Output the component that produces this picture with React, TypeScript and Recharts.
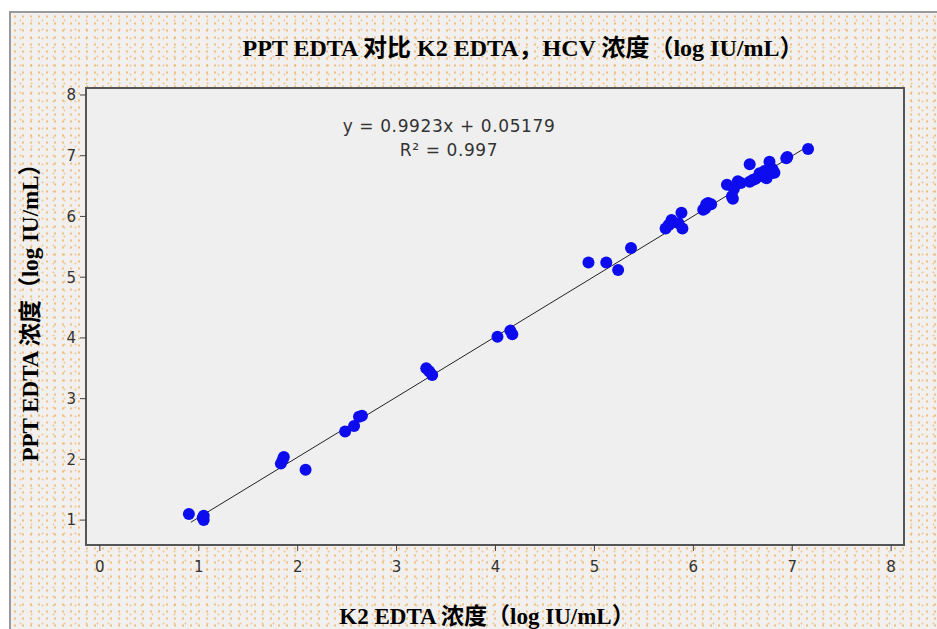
import {
  ComposedChart,
  Scatter,
  XAxis,
  YAxis,
  ReferenceArea,
  ReferenceLine,
} from "recharts";

// K2 EDTA (x) vs PPT EDTA (y), log IU/mL
const k2Values = [
  0.9, 1.04, 1.05, 1.05,
  1.83, 1.85, 1.86, 2.08,
  2.48, 2.57, 2.62, 2.65,
  3.3, 3.33, 3.36,
  4.02, 4.15, 4.17,
  4.94, 5.12, 5.24, 5.37,
  5.72, 5.75, 5.78, 5.85, 5.88, 5.89,
  6.1, 6.12, 6.13, 6.15, 6.18,
  6.34, 6.39, 6.4, 6.41, 6.45, 6.48,
  6.57, 6.57, 6.6, 6.63, 6.67, 6.7, 6.72, 6.74, 6.77, 6.79, 6.8, 6.82,
  6.94, 6.95, 7.16,
];
const pptValues = [
  1.1, 1.04, 1.0, 1.07,
  1.93, 2.0, 2.04, 1.83,
  2.46, 2.55, 2.7, 2.72,
  3.5, 3.45, 3.39,
  4.02, 4.12, 4.06,
  5.24, 5.24, 5.12, 5.48,
  5.8, 5.86, 5.94, 5.89, 6.06, 5.8,
  6.11, 6.13, 6.2, 6.22, 6.2,
  6.52, 6.33, 6.29, 6.45, 6.58, 6.55,
  6.86, 6.57, 6.6, 6.62, 6.71, 6.66, 6.75, 6.63, 6.9, 6.71, 6.78, 6.72,
  6.96, 6.98, 7.11,
];
const tickValues = [0, 1, 2, 3, 4, 5, 6, 7, 8];
const slope = 0.9923;
const intercept = 0.05179;
const fitFrom = 0.92;
const fitTo = 7.2;

const xDomain: [number, number] = [-0.14, 8.13];
const yDomain: [number, number] = [0.59, 8.115];

const points = k2Values.map((x, i) => ({ x, y: pptValues[i] }));

const serif = '"Liberation Serif", "Times New Roman", "Noto Sans CJK SC", serif';
const tickFont = { fill: "#333", fontSize: 15, fontFamily: '"DejaVu Sans", sans-serif' };
const labelStyle = {
  fontFamily: serif,
  fontWeight: "bold" as const,
  fontSize: 23,
  color: "#000",
  whiteSpace: "nowrap" as const,
};

function Dot(props: any) {
  const { cx, cy } = props;
  if (cx == null || cy == null) return null;
  return <circle cx={cx} cy={cy} r={6} fill="#0c0cee" />;
}

export default function App() {
  return (
    <div
      style={{
        position: "absolute",
        left: 0,
        top: 0,
        width: 937,
        height: 629,
        overflow: "hidden",
        background: "#fff",
      }}
    >
      <div
        style={{
          position: "absolute",
          left: 9,
          top: 11,
          width: 940,
          height: 630,
          borderTop: "2px solid #9a9a9a",
          borderLeft: "2px solid #9a9a9a",
          backgroundColor: "#f1f0ee",
          backgroundImage:
            "radial-gradient(circle, rgba(238,160,60,0.6) 0.9px, transparent 1.4px), radial-gradient(circle, rgba(238,160,60,0.45) 0.8px, transparent 1.3px)",
          backgroundSize: "8px 7px, 11px 9px",
          backgroundPosition: "0 0, 4px 3px",
        }}
      />
      <div
        style={{
          position: "absolute",
          left: 0,
          top: 0,
          width: 937,
          height: 629,
        }}
      >
        <ComposedChart
          width={937}
          height={629}
          margin={{ top: 88, right: 33, bottom: 54, left: 26 }}
        >
          <XAxis
            type="number"
            dataKey="x"
            domain={xDomain}
            ticks={tickValues}
            allowDataOverflow
            axisLine={false}
            tickLine={{ stroke: "#444" }}
            tickSize={6}
            tickMargin={10}
            tick={tickFont}
            height={30}
          />
          <YAxis
            type="number"
            dataKey="y"
            domain={yDomain}
            ticks={tickValues.slice(1)}
            allowDataOverflow
            axisLine={false}
            tickLine={{ stroke: "#444" }}
            tickSize={6}
            tickMargin={4}
            tick={tickFont}
            width={60}
          />
          <ReferenceArea
            x1={xDomain[0]}
            x2={xDomain[1]}
            y1={yDomain[0]}
            y2={yDomain[1]}
            fill="#efefef"
            fillOpacity={1}
            stroke="#555"
            strokeWidth={2}
          />
          <ReferenceLine
            segment={[
              { x: fitFrom, y: slope * fitFrom + intercept },
              { x: fitTo, y: slope * fitTo + intercept },
            ]}
            stroke="#222"
            strokeWidth={1}
          />
          <Scatter
            data={points}
            shape={<Dot />}
            isAnimationActive={false}
          />
        </ComposedChart>
      </div>

      <div
        style={{
          ...labelStyle,
          fontSize: 24,
          position: "absolute",
          left: 523,
          top: 28,
          transform: "translateX(-50%)",
        }}
      >
        PPT EDTA 对比 K2 EDTA，HCV 浓度（log IU/mL）
      </div>

      <div
        style={{
          ...labelStyle,
          position: "absolute",
          left: 487,
          top: 597,
          transform: "translateX(-50%)",
        }}
      >
        K2 EDTA 浓度（log IU/mL）
      </div>

      <div
        style={{
          ...labelStyle,
          position: "absolute",
          left: 28,
          top: 307,
          transform: "translate(-50%, -50%) rotate(-90deg)",
        }}
      >
        PPT EDTA 浓度（log IU/mL）
      </div>

      <div
        style={{
          position: "absolute",
          left: 449,
          top: 114,
          transform: "translateX(-50%)",
          textAlign: "center",
          whiteSpace: "nowrap",
          fontFamily: '"DejaVu Sans", sans-serif',
          fontSize: 17,
          letterSpacing: 0.6,
          lineHeight: "24px",
          color: "#333",
        }}
      >
        <div>y = 0.9923x + 0.05179</div>
        <div>R² = 0.997</div>
      </div>
    </div>
  );
}
